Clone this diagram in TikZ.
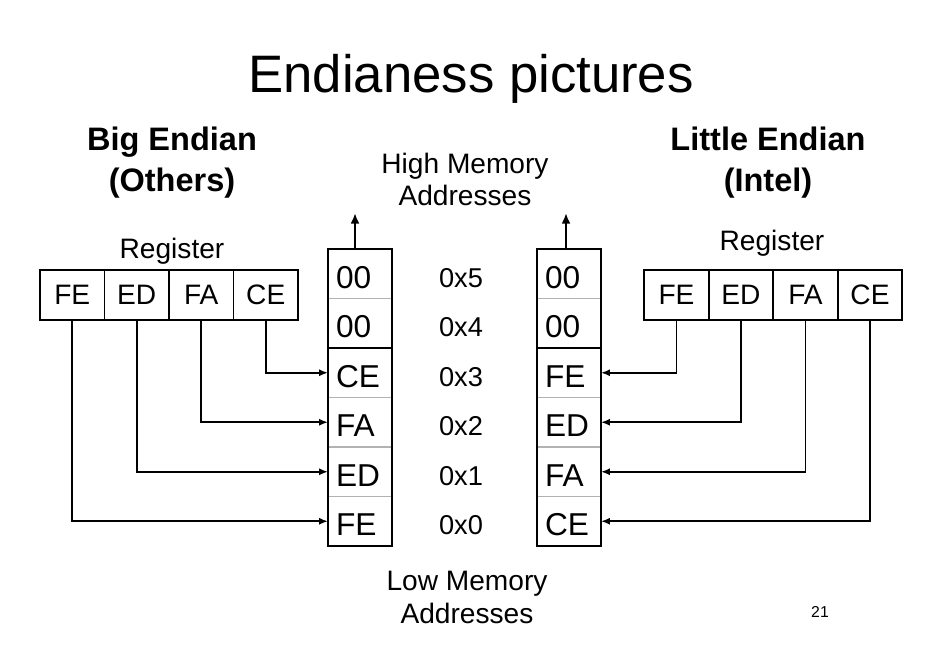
\documentclass[tikz,border=0pt]{standalone}
\usepackage{fontspec}
\setmainfont{Liberation Sans}
\usetikzlibrary{arrows.meta}
\usetikzlibrary{positioning}

\begin{document}
\begin{tikzpicture}[node distance=0pt,
    regcell/.style={draw, line width=1.1pt, outer sep=0pt, inner sep=0pt, minimum width=1.29cm, minimum height=1cm, font=\fontsize{16}{19}\selectfont},
    memcell/.style={draw=gray!60, line width=0.6pt, outer sep=0pt, inner xsep=0.16cm, inner ysep=0pt, text width=0.96cm, text height=0.57cm, text depth=0pt, minimum height=0.99cm, align=left, font=\fontsize{18}{21}\selectfont},
    addr/.style={font=\fontsize{15.5}{18}\selectfont},
    lbl/.style={align=center, font=\fontsize{16}{18.7}\selectfont},
    head/.style={align=center, font=\fontsize{18.5}{23.2}\selectfont\bfseries},
    conn/.style={line width=1.1pt, -{Latex[length=5pt,width=4pt]}},
    up/.style={line width=1.6pt, -{Latex[length=6pt,width=5pt]}}]
  \useasboundingbox (0,0) rectangle (18.8,13.12);

  \node[font=\fontsize{30}{35}\selectfont] (title) at (9.42,11.55) {Endianess pictures};
  \node[head] (big) at (3.44,9.87) {Big Endian\\(Others)};
  \node[head] (little) at (15.36,9.87) {Little Endian\\(Intel)};
  \node[lbl] (high) at (9.3,9.53) {High Memory\\Addresses};
  \node[lbl] (low) at (9.34,1.17) {Low Memory\\Addresses};

  % memory columns, highest address on top
  \node[memcell] (lm5) at (7.2,7.645) {00};
  \node[memcell, below=of lm5] (lm4) {00};
  \node[memcell, below=of lm4] (lm3) {CE};
  \node[memcell, below=of lm3] (lm2) {FA};
  \node[memcell, below=of lm2] (lm1) {ED};
  \node[memcell, below=of lm1] (lm0) {FE};

  \node[memcell] (rm5) at (11.38,7.645) {00};
  \node[memcell, below=of rm5] (rm4) {00};
  \node[memcell, below=of rm4] (rm3) {FE};
  \node[memcell, below=of rm3] (rm2) {ED};
  \node[memcell, below=of rm2] (rm1) {FA};
  \node[memcell, below=of rm1] (rm0) {CE};

  \foreach \s in {l,r} {
    \draw[line width=1.3pt] (\s m5.north west) rectangle (\s m0.south east);
    \draw[line width=1.3pt] (\s m3.north west) -- (\s m3.north east);
  }

  \foreach \i in {0,...,5}
    \path (lm\i) -- (rm\i) node[midway, addr, xshift=-0.07cm, yshift=-0.08cm] (a\i) {0x\i};

  % growth arrows
  \coordinate (ltop) at ([xshift=-0.1cm, yshift=0.72cm]lm5.north);
  \coordinate (rtop) at ([xshift=-0.06cm, yshift=0.72cm]rm5.north);
  \draw[up] ([xshift=-0.1cm]lm5.north) -- (ltop);
  \draw[up] ([xshift=-0.06cm]rm5.north) -- (rtop);

  % registers
  \node[regcell] (lfe) at (1.445,7.22) {FE};
  \node[regcell, right=of lfe] (led) {ED};
  \node[regcell, right=of led] (lfa) {FA};
  \node[regcell, right=of lfa] (lce) {CE};
  \node[lbl] (lreg) at (3.44,8.09) {Register};

  \node[regcell] (rfe) at (13.53,7.22) {FE};
  \node[regcell, right=of rfe] (red) {ED};
  \node[regcell, right=of red] (rfa) {FA};
  \node[regcell, right=of rfa] (rce) {CE};
  \node[lbl] (rreg) at (15.44,8.26) {Register};

  % big endian: most significant byte at lowest address
  \draw[conn] (lce.south) |- (lm3.west);
  \draw[conn] (lfa.south) |- (lm2.west);
  \draw[conn] (led.south) |- (lm1.west);
  \draw[conn] (lfe.south) |- (lm0.west);

  % little endian: least significant byte at lowest address
  \draw[conn] (rfe.south) |- (rm3.east);
  \draw[conn] (red.south) |- (rm2.east);
  \draw[conn] (rfa.south) |- (rm1.east);
  \draw[conn] (rce.south) |- (rm0.east);

  \node[font=\fontsize{9}{11}\selectfont] (page) at (16.4,0.88) {21};
\end{tikzpicture}
\end{document}
